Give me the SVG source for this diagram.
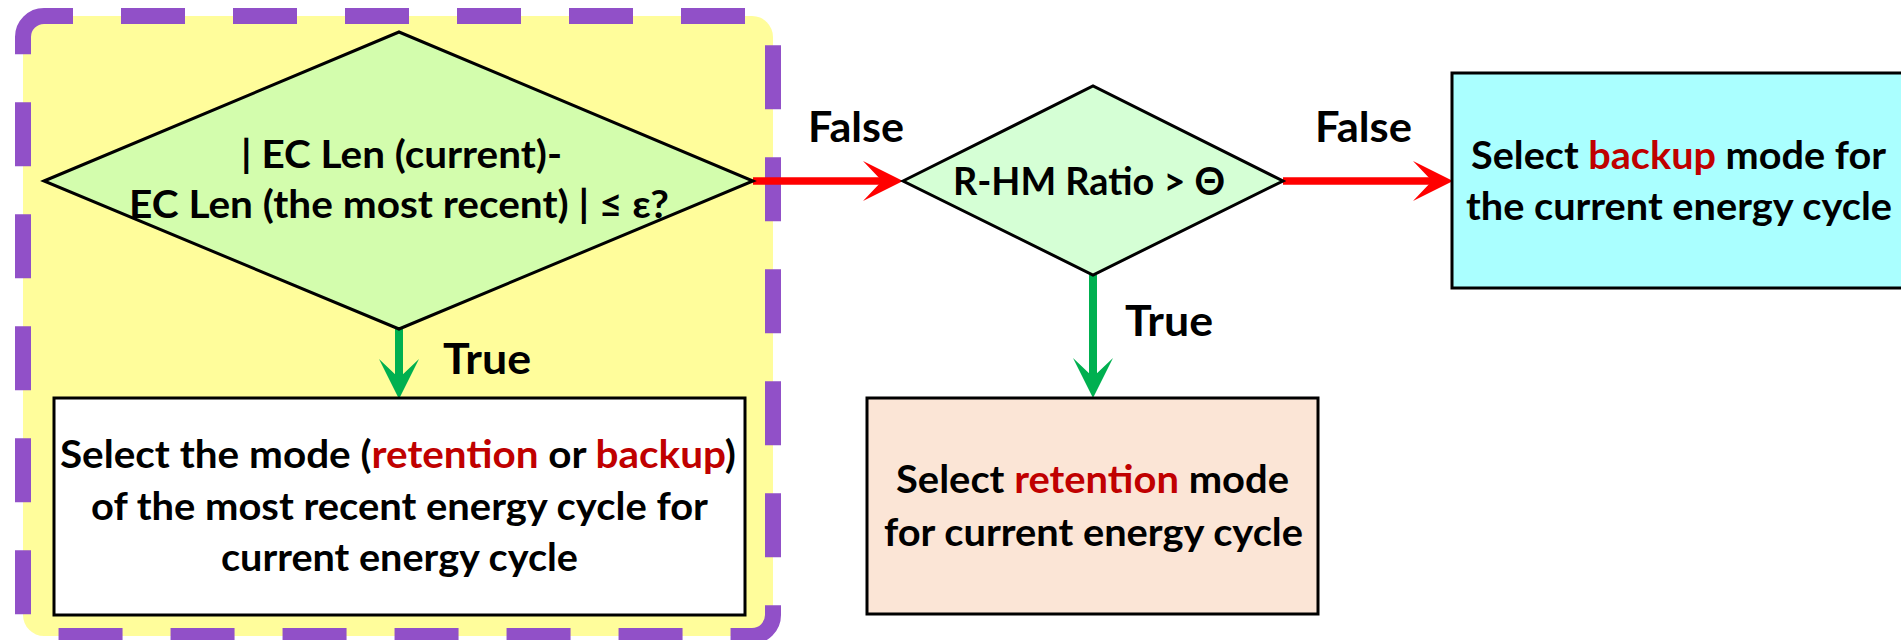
<svg xmlns="http://www.w3.org/2000/svg" width="1901" height="640" viewBox="0 0 1901 640">
<style>
  .t { font-family: Lato, "Noto Sans", "DejaVu Sans", sans-serif; font-weight: bold; fill: #000; }
  .box { font-size: 39px; }
  .lbl { font-size: 41.5px; }
  .hl { fill: #C00000; }
  .shape { stroke: #000; stroke-width: 3; stroke-linejoin: miter; }
  .conn-red { stroke: #FF0000; stroke-width: 7.5; fill: none; }
  .conn-green { stroke: #00B050; stroke-width: 8; fill: none; }
</style>
<defs>
  <marker id="ahRed" viewBox="-41 -21 42 42" refX="-15" refY="0" markerWidth="42" markerHeight="42" markerUnits="userSpaceOnUse" orient="auto">
    <path d="M0,0 L-40,-20 L-21,0 L-40,20 Z" fill="#FF0000"/>
  </marker>
  <marker id="ahGreen" viewBox="-41 -21 42 42" refX="-15" refY="0" markerWidth="42" markerHeight="42" markerUnits="userSpaceOnUse" orient="auto">
    <path d="M0,0 L-40,-20 L-21,0 L-40,20 Z" fill="#00B050"/>
  </marker>
</defs>
<rect width="1901" height="640" fill="#FFFFFF"/>

<g id="group-container">
  <path d="M44,16 H752 A21,21 0 0 1 773,37 V615 A21,21 0 0 1 752,636 H44 A21,21 0 0 1 23,615 V37 A21,21 0 0 1 44,16 Z" fill="#FFFD9B" stroke="none"/>
  <path d="M44,16 H752 A21,21 0 0 1 773,37 V615 A21,21 0 0 1 752,636 H44 A21,21 0 0 1 23,615 V37 A21,21 0 0 1 44,16" fill="none" stroke="#9150C8" stroke-width="16" stroke-dasharray="64 48" stroke-dashoffset="35"/>
</g>

<g id="connectors">
  <path class="conn-red" d="M753,181 H888" marker-end="url(#ahRed)"/>
  <path class="conn-red" d="M1283,181 H1438" marker-end="url(#ahRed)"/>
  <path class="conn-green" d="M399,329 V384" marker-end="url(#ahGreen)"/>
  <path class="conn-green" d="M1093,275 V383" marker-end="url(#ahGreen)"/>
  <text class="t lbl" x="856" y="142" text-anchor="middle" textLength="96" lengthAdjust="spacingAndGlyphs">False</text>
  <text class="t lbl" x="1363.5" y="142" text-anchor="middle" textLength="97" lengthAdjust="spacingAndGlyphs">False</text>
  <text class="t lbl" x="487" y="374" text-anchor="middle" textLength="88" lengthAdjust="spacingAndGlyphs">True</text>
  <text class="t lbl" x="1169" y="336" text-anchor="middle" textLength="88" lengthAdjust="spacingAndGlyphs">True</text>
</g>

<g id="decision-ec-len">
  <path class="shape" d="M44,181 L399,32 L753,181 L399,329 Z" fill="#D3FDAD"/>
  <text class="t box" x="401.5" y="168" text-anchor="middle" textLength="321" lengthAdjust="spacingAndGlyphs">| EC Len (current)-</text>
  <text class="t box" x="399" y="218" text-anchor="middle" textLength="540" lengthAdjust="spacingAndGlyphs">EC Len (the most recent) | ≤ ε?</text>
</g>

<g id="decision-rhm-ratio">
  <path class="shape" d="M903,181 L1093,86 L1283,181 L1093,275 Z" fill="#D5FFD5"/>
  <text class="t box" x="1089" y="195" text-anchor="middle" textLength="272" lengthAdjust="spacingAndGlyphs">R-HM Ratio &gt; Θ</text>
</g>

<g id="select-recent-mode">
  <rect class="shape" x="54" y="398" width="691" height="217" fill="#FFFFFF"/>
  <text class="t box" x="398" y="468" text-anchor="middle" textLength="676" lengthAdjust="spacingAndGlyphs">Select the mode (<tspan class="hl">retention</tspan> or <tspan class="hl">backup</tspan>)</text>
  <text class="t box" x="399.5" y="520" text-anchor="middle" textLength="617" lengthAdjust="spacingAndGlyphs">of the most recent energy cycle for</text>
  <text class="t box" x="399.5" y="571" text-anchor="middle" textLength="357" lengthAdjust="spacingAndGlyphs">current energy cycle</text>
</g>

<g id="select-retention">
  <rect class="shape" x="867" y="398" width="451" height="216" fill="#FBE5D6"/>
  <text class="t box" x="1092.5" y="493" text-anchor="middle" textLength="393" lengthAdjust="spacingAndGlyphs">Select <tspan class="hl">retention</tspan> mode</text>
  <text class="t box" x="1093.5" y="546" text-anchor="middle" textLength="419" lengthAdjust="spacingAndGlyphs">for current energy cycle</text>
</g>

<g id="select-backup">
  <rect class="shape" x="1452" y="73" width="480" height="215" fill="#AAFFFF"/>
  <text class="t box" x="1678.5" y="169" text-anchor="middle" textLength="415" lengthAdjust="spacingAndGlyphs">Select <tspan class="hl">backup</tspan> mode for</text>
  <text class="t box" x="1679" y="220" text-anchor="middle" textLength="426" lengthAdjust="spacingAndGlyphs">the current energy cycle</text>
</g>
</svg>
